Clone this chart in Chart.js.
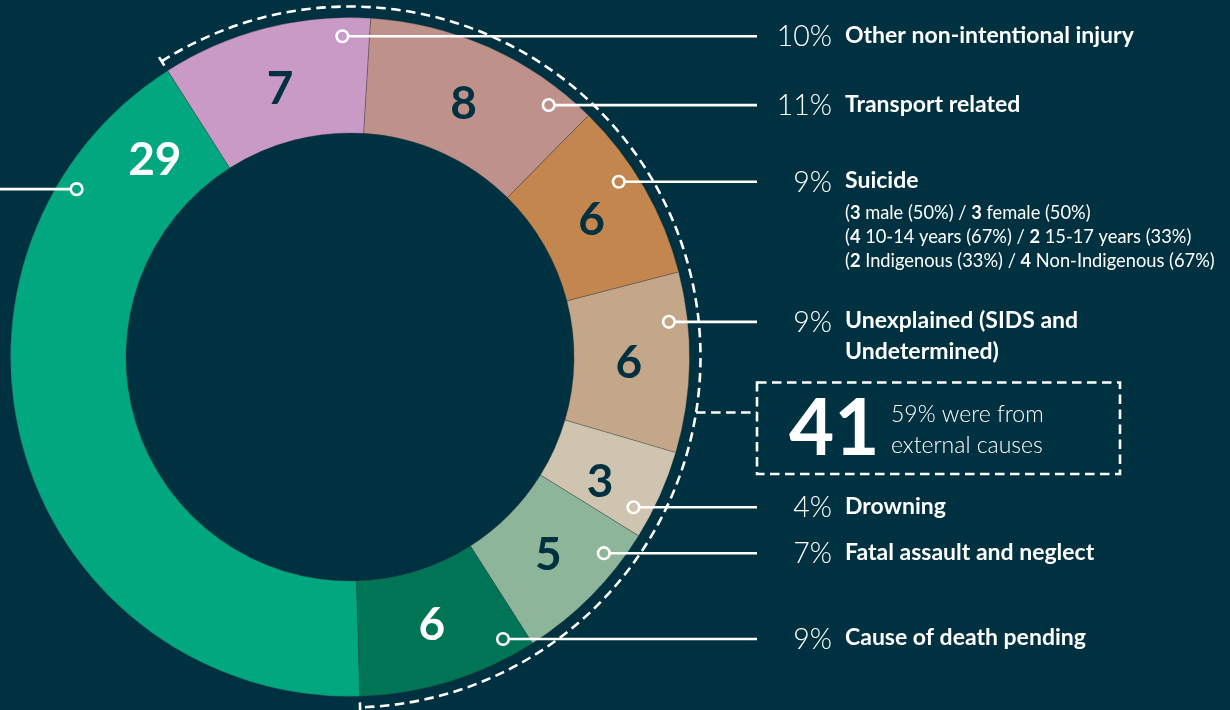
<!DOCTYPE html>
<html>
<head>
<meta charset="utf-8">
<script src="https://cdn.jsdelivr.net/npm/chart.js@4/dist/chart.umd.min.js"></script>
<style>
  html, body { margin: 0; padding: 0; background: #003140; }
  #wrap { width: 1230px; height: 710px; position: relative; overflow: hidden; }
</style>
</head>
<body>
<div id="wrap"><canvas id="chart" width="1230" height="710"></canvas></div>
<script>
// Child deaths by cause (counts)
const categories = [
  'Other non-intentional injury',
  'Transport related',
  'Suicide',
  'Unexplained (SIDS and Undetermined)',
  'Drowning',
  'Fatal assault and neglect',
  'Cause of death pending',
  'Other causes'
];
const counts = [7, 8, 6, 6, 3, 5, 6, 29];
// Causes counted as external (first seven slices)
const externalCount = 7;

// Text shown beside each external slice (wrapped lines)
const labelLines = [
  ['Other non-intentional injury'],
  ['Transport related'],
  ['Suicide'],
  ['Unexplained (SIDS and', 'Undetermined)'],
  ['Drowning'],
  ['Fatal assault and neglect'],
  ['Cause of death pending']
];

// Suicide breakdown: [count A, label A, count B, label B]
const suicideSplits = [
  [3, 'male', 3, 'female'],
  [4, '10-14 years', 2, '15-17 years'],
  [2, 'Indigenous', 4, 'Non-Indigenous']
];
const externalCaption = ['were from', 'external causes'];

const sliceColors = ['#C99AC6', '#BF918B', '#C4864F', '#C4A689', '#CEC4B0', '#8DB59A', '#007556', '#00A77F'];
const numberColors = ['#003140', '#003140', '#003140', '#003140', '#003140', '#003140', '#ffffff', '#ffffff'];
// where, along each slice (0 = start, 1 = end), the number and the leader dot sit
const numberAt = [0.5, 0.5, 0.5, 0.5, 0.64, 0.5, 0.5, 0.92];
const dotAt = [0.865, 0.845, 0.397, 0.266, 0.75, 0.23, 0.13, 0.826];

const FONT = 'Lato, "Open Sans", sans-serif';
const total = counts.reduce((a, b) => a + b, 0);
const pct = (n, d) => Math.round(n / d * 100) + '%';

function polar(cx, cy, ang, r) {
  return { x: cx + Math.cos(ang) * r, y: cy + Math.sin(ang) * r };
}

function dashedStyle(ctx) {
  ctx.strokeStyle = '#ffffff';
  ctx.lineWidth = 2.6;
  ctx.setLineDash([9.5, 5.5]);
}

// Draw runs of [text, bold] left to right
function drawRuns(ctx, runs, x, y, size) {
  runs.forEach(([t, bold]) => {
    ctx.font = (bold ? '700 ' : '400 ') + size + 'px ' + FONT;
    ctx.fillText(t, x, y);
    x += ctx.measureText(t).width;
  });
}

const annotations = {
  id: 'annotations',
  afterDatasetsDraw(chart) {
    const ctx = chart.ctx;
    const arcs = chart.getDatasetMeta(0).data;
    const g = arcs[0].getProps(['x', 'y', 'outerRadius', 'innerRadius'], true);
    const cx = g.x, cy = g.y, R = g.outerRadius, r = g.innerRadius;
    const midR = (R + r) / 2 - 3;
    const dotR = R * 0.945;
    ctx.save();

    // slice numbers
    ctx.textAlign = 'center';
    ctx.textBaseline = 'middle';
    ctx.font = '700 46px ' + FONT;
    arcs.forEach((arc, i) => {
      const p = arc.getProps(['startAngle', 'endAngle'], true);
      const ang = p.startAngle + (p.endAngle - p.startAngle) * numberAt[i];
      const pt = polar(cx, cy, ang, midR);
      ctx.fillStyle = numberColors[i];
      ctx.fillText(String(counts[i]), pt.x, pt.y + 2);
    });

    // leader lines, dots and labels
    const lineEndRight = 757;
    arcs.forEach((arc, i) => {
      const p = arc.getProps(['startAngle', 'endAngle'], true);
      const ang = p.startAngle + (p.endAngle - p.startAngle) * dotAt[i];
      const d = polar(cx, cy, ang, dotR);
      const toRight = i < externalCount;
      ctx.setLineDash([]);
      ctx.strokeStyle = '#ffffff';
      ctx.lineWidth = 2.6;
      ctx.beginPath();
      if (toRight) { ctx.moveTo(d.x + 6, d.y); ctx.lineTo(lineEndRight, d.y); }
      else { ctx.moveTo(d.x - 6, d.y); ctx.lineTo(0, d.y); }
      ctx.stroke();
      ctx.beginPath();
      ctx.arc(d.x, d.y, 5.8, 0, Math.PI * 2);
      ctx.fillStyle = sliceColors[i];
      ctx.fill();
      ctx.stroke();

      if (!toRight) return;
      ctx.fillStyle = '#ffffff';
      ctx.textBaseline = 'middle';
      ctx.textAlign = 'right';
      ctx.font = '300 28.5px ' + FONT;
      ctx.fillText(pct(counts[i], total), 832, d.y + 1);
      ctx.textAlign = 'left';
      ctx.font = '700 23px ' + FONT;
      labelLines[i].forEach((ln, k) => ctx.fillText(ln, 845, d.y - 1 + k * 31));
      if (categories[i] === 'Suicide') {
        suicideSplits.forEach(([a, la, b, lb], k) => {
          const n = a + b;
          drawRuns(ctx, [
            ['(', false], [String(a), true], [' ' + la + ' (' + pct(a, n) + ') / ', false],
            [String(b), true], [' ' + lb + ' (' + pct(b, n) + ')', false]
          ], 845, d.y + 31 + k * 24, 18.3);
        });
      }
    });

    // dashed bracket round the external-cause slices
    const a0 = arcs[0].getProps(['startAngle'], true).startAngle;
    const a1 = arcs[externalCount - 1].getProps(['endAngle'], true).endAngle;
    const bR = R + 11;
    dashedStyle(ctx);
    ctx.beginPath();
    ctx.arc(cx, cy, bR, a0, a1);
    ctx.stroke();
    ctx.setLineDash([]);
    [a0, a1].forEach(a => {
      const p1 = polar(cx, cy, a, bR - 5), p2 = polar(cx, cy, a, bR + 5);
      ctx.beginPath(); ctx.moveTo(p1.x, p1.y); ctx.lineTo(p2.x, p2.y); ctx.stroke();
    });

    // connector and summary box
    const boxL = 757, boxT = 382.5, boxR = 1120, boxB = 474, connY = 412.5;
    dashedStyle(ctx);
    ctx.beginPath();
    ctx.moveTo(cx + Math.sqrt(bR * bR - (connY - cy) * (connY - cy)), connY);
    ctx.lineTo(boxL, connY);
    ctx.stroke();
    ctx.strokeRect(boxL, boxT, boxR - boxL, boxB - boxT);
    ctx.setLineDash([]);

    const ext = counts.slice(0, externalCount).reduce((a, b) => a + b, 0);
    ctx.fillStyle = '#ffffff';
    ctx.textAlign = 'left';
    ctx.textBaseline = 'alphabetic';
    ctx.font = '700 78px ' + FONT;
    ctx.fillText(String(ext), 789, 455);
    ctx.font = '300 23px ' + FONT;
    ctx.fillText(pct(ext, total) + ' ' + externalCaption[0], 891, 422);
    ctx.fillText(externalCaption[1], 891, 453);
    ctx.restore();
  }
};

new Chart(document.getElementById('chart'), {
  type: 'doughnut',
  data: {
    labels: categories,
    datasets: [{
      data: counts,
      backgroundColor: sliceColors,
      borderColor: 'rgba(60,60,60,0.35)',
      borderWidth: 1,
      hoverOffset: 0
    }]
  },
  options: {
    responsive: false,
    animation: false,
    devicePixelRatio: 1,
    cutout: '66%',
    rotation: -32.5,
    layout: { padding: { left: 10, top: 17, right: 540, bottom: 13 } },
    plugins: { legend: { display: false }, tooltip: { enabled: false } }
  },
  plugins: [annotations]
});
</script>
</body>
</html>
